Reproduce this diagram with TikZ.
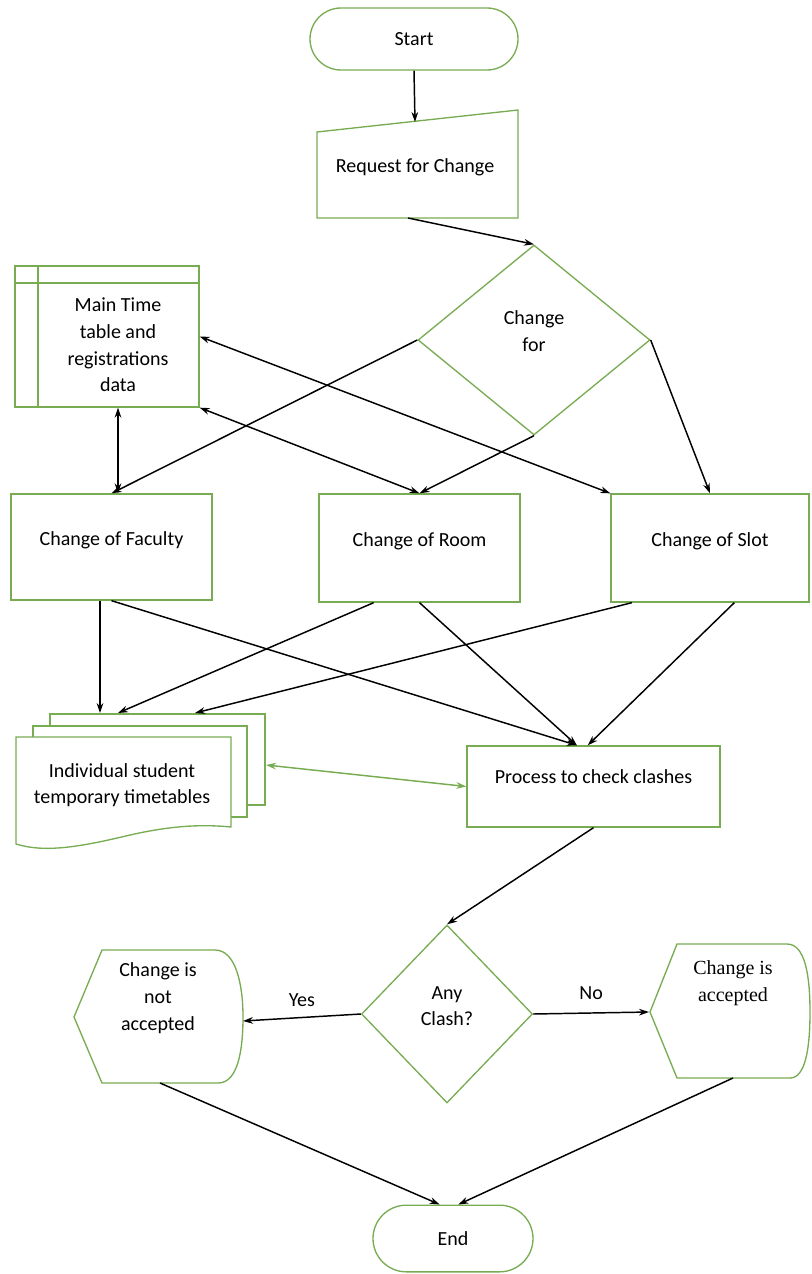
\documentclass[tikz,border=0pt]{standalone}
\usepackage{fontspec}
\setmainfont{Carlito}
\newfontfamily\timesfont{Liberation Serif}
\usetikzlibrary{arrows.meta,shapes.geometric,shapes.misc}
\definecolor{flowgreen}{RGB}{120,172,82}

\begin{document}
\begin{tikzpicture}[x=0.75pt, y=-0.75pt,
    every node/.style={align=center, font=\fontsize{15}{20}\selectfont},
    box/.style={draw=flowgreen, line width=1pt, fill=white, inner sep=0pt},
    term/.style={box, rounded rectangle},
    dec/.style={box, diamond},
    arr/.style={-{Stealth[length=7.5pt,width=5pt]}, line width=1.1pt},
    darr/.style={{Stealth[length=7.5pt,width=5pt]}-{Stealth[length=7.5pt,width=5pt]}, line width=1.1pt},
    garr/.style={darr, draw=flowgreen}]

    \useasboundingbox (0,0) rectangle (811,1274);

    \node[term, minimum width=156pt, minimum height=46.5pt] (start) at (414,39) {Start};

    \draw[draw=flowgreen, fill=white, line width=1pt] (317,132) -- (518,110) -- (518,218) -- (317,218) -- cycle;
    \node (req) at (415,167) {Request for Change};
    \coordinate (reqN) at (415,122);
    \coordinate (reqS) at (408,218);

    \node[dec, minimum width=174pt, minimum height=142.5pt, text depth=13.5pt] (chg) at (534,340) {Change\\for};

    \node[box, minimum width=138pt, minimum height=105.75pt] (mtt) at (107,336.5) {};
    \draw[flowgreen, line width=1pt] (38,266) -- (38,407) (15,283) -- (199,283);
    \node (mttT) at (118,345) {Main Time\\table and\\registrations\\data};

    \node[box, minimum width=150.75pt, minimum height=79.5pt, text depth=12.5pt] (fac) at (111.5,547) {Change of Faculty};
    \node[box, minimum width=150.75pt, minimum height=81pt, text depth=12.5pt] (room) at (419.5,548) {Change of Room};
    \node[box, minimum width=148.5pt, minimum height=81pt, text depth=12.5pt] (slot) at (710,548) {Change of Slot};

    \draw[draw=flowgreen, fill=white, line width=1pt] (50,714) rectangle (265,805);
    \draw[draw=flowgreen, fill=white, line width=1pt] (33,726) rectangle (247,817);
    \draw[draw=flowgreen, fill=white, line width=1pt] (16,737) -- (231,737) -- (231,827)
        .. controls (200,824) and (170,826) .. (130,835)
        .. controls (80,847) and (45,853) .. (16,844) -- cycle;
    \node (itt) at (122,785) {Individual student\\temporary timetables};
    \coordinate (ittA) at (100,713);
    \coordinate (ittB) at (118,713);
    \coordinate (ittC) at (195,713);
    \coordinate (ittR) at (266,765);

    \node[box, minimum width=189.75pt, minimum height=60.75pt, text depth=15pt] (proc) at (593.5,786.5) {Process to check clashes};

    \node[dec, minimum width=128.25pt, minimum height=133.5pt, text depth=12pt] (clash) at (447,1014) {Any\\Clash?};

    \draw[draw=flowgreen, fill=white, line width=1pt] (74,1017) -- (102,950) -- (215,950)
        .. controls (236,950) and (243,985) .. (243,1017)
        .. controls (243,1050) and (238,1083) .. (218,1083) -- (102,1083) -- cycle;
    \node (nacc) at (158,998) {Change is\\not\\accepted};
    \coordinate (naccE) at (243,1021);
    \coordinate (naccS) at (160,1083);

    \draw[draw=flowgreen, fill=white, line width=1pt] (650,1012) -- (677,944) -- (787,944)
        .. controls (805,944) and (810,975) .. (810,1012)
        .. controls (810,1050) and (805,1078) .. (790,1078) -- (677,1078) -- cycle;
    \node[font=\timesfont\fontsize{15}{20}\selectfont] (acc) at (733,983) {Change is\\accepted};
    \coordinate (accW) at (649,1012);
    \coordinate (accS) at (733,1078);

    \node[term, minimum width=120pt, minimum height=50pt] (endn) at (453,1238.5) {End};

    \draw[arr] (start.south) -- (reqN);
    \draw[arr] (reqS) -- (chg.north);
    \draw[arr] (chg.west) -- (fac.north);
    \draw[arr] (chg.south) -- (room.north);
    \draw[arr] (chg.east) -- (slot.north);
    \draw[darr] (mttT |- mtt.south) -- (mttT |- fac.north);
    \draw[darr] (mtt.south east) -- (room.north);
    \draw[darr] (mtt.east) -- (slot.north west);
    \draw[arr] (ittA |- fac.south) -- (ittA);
    \draw[arr] (room.230) -- (ittB);
    \draw[arr] (slot.215) -- (ittC);
    \draw[arr] (fac.south) -- (proc.112);
    \draw[arr] (room.south) -- (proc.112);
    \draw[arr] (slot.-66) -- (proc.98);
    \draw[garr] (ittR) -- (proc.west);
    \draw[arr] (proc.south) -- (clash.north);
    \draw[arr] (clash.west) -- node[above=4pt] (yes) {Yes} (naccE);
    \draw[arr] (clash.east) -- node[above=6pt] (no) {No} (accW);
    \draw[arr] (naccS) -- ([xshift=-10pt]endn.north);
    \draw[arr] (accS) -- ([xshift=4pt]endn.north);
\end{tikzpicture}
\end{document}
